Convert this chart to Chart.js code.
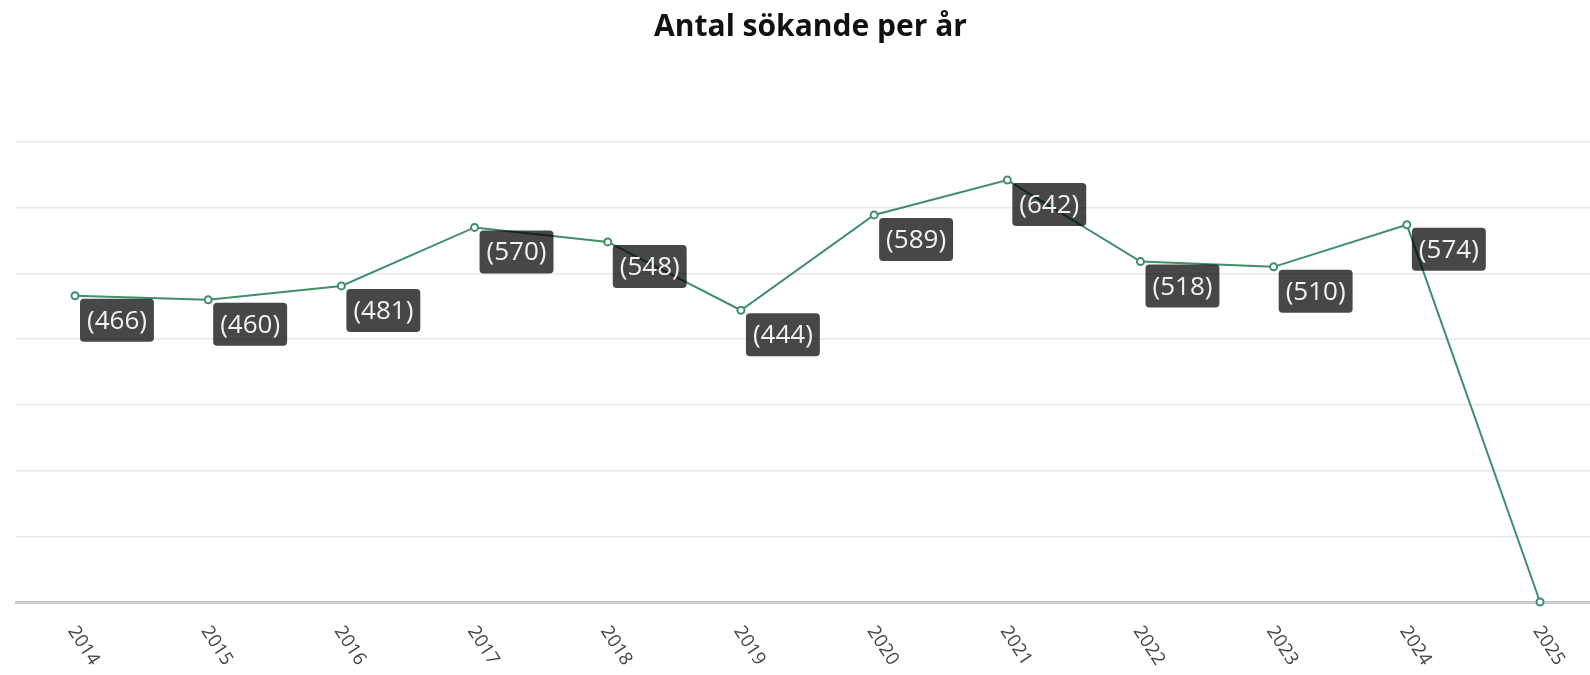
<!DOCTYPE html>
<html>
<head>
<meta charset="utf-8">
<script src="https://cdn.jsdelivr.net/npm/chart.js@4/dist/chart.umd.min.js"></script>
<style>
  html, body { margin: 0; padding: 0; background: #fff; }
  #wrap { width: 1590px; height: 675px; }
</style>
</head>
<body>
<div id="wrap"><canvas id="sokandeChart"></canvas></div>
<script>
const years = [2014, 2015, 2016, 2017, 2018, 2019, 2020, 2021, 2022, 2023, 2024, 2025];
const applicants = [466, 460, 481, 570, 548, 444, 589, 642, 518, 510, 574, 0];
const yTicks = [0, 100, 200, 300, 400, 500, 600, 700];

const lineColor = '#3f8f6b';

// Rounded box with the value, placed below-right of each point
const valueLabels = {
  id: 'valueLabels',
  afterDatasetsDraw(chart) {
    const ctx = chart.ctx;
    const meta = chart.getDatasetMeta(0);
    ctx.save();
    ctx.font = '26px "Open Sans"';
    ctx.textBaseline = 'middle';
    ctx.textAlign = 'left';
    meta.data.forEach((pt, i) => {
      const v = applicants[i];
      if (!v) return;
      const text = '(' + v + ')';
      const w = ctx.measureText(text).width + 14;
      const h = 43;
      const x = pt.x + 5;
      const y = pt.y + 3;
      ctx.fillStyle = 'rgba(0, 0, 0, 0.72)';
      ctx.beginPath();
      ctx.roundRect(x, y, w, h, 4);
      ctx.fill();
      ctx.fillStyle = '#f2f2f2';
      ctx.fillText(text, x + 7, y + h / 2 + 1);
    });
    ctx.restore();
  }
};

// Year labels turned clockwise, starting at the tick
const yearLabels = {
  id: 'yearLabels',
  afterDraw(chart) {
    const ctx = chart.ctx;
    const xScale = chart.scales.x;
    const bottom = chart.chartArea.bottom;
    ctx.save();
    ctx.font = '18.5px "Open Sans"';
    ctx.fillStyle = '#444';
    ctx.textAlign = 'left';
    ctx.textBaseline = 'middle';
    years.forEach(yr => {
      const x = xScale.getPixelForValue(yr);
      ctx.save();
      ctx.translate(x - 3, bottom + 26);
      ctx.rotate(57 * Math.PI / 180);
      ctx.fillText(String(yr), 0, 0);
      ctx.restore();
    });
    ctx.restore();
  }
};

new Chart(document.getElementById('sokandeChart'), {
  type: 'line',
  data: {
    datasets: [{
      label: 'Antal sökande',
      data: years.map((yr, i) => ({ x: yr, y: applicants[i] })),
      borderColor: lineColor,
      backgroundColor: '#fff',
      borderWidth: 2,
      pointRadius: 3.5,
      pointBorderWidth: 2,
      pointBorderColor: lineColor,
      pointBackgroundColor: '#fff',
      tension: 0,
      clip: false
    }]
  },
  options: {
    responsive: true,
    maintainAspectRatio: false,
    animation: false,
    layout: { autoPadding: false, padding: { left: 16, right: 0, top: 0, bottom: 73 } },
    plugins: {
      legend: { display: false },
      tooltip: { enabled: false },
      title: {
        display: true,
        text: '\u2002Antal sökande per år',
        color: '#111',
        font: { family: 'Open Sans', size: 30, weight: 'bold' },
        padding: { top: 9, bottom: 97 }
      }
    },
    scales: {
      x: {
        type: 'linear',
        min: 2013.557,
        max: 2025.375,
        grid: { display: false, drawTicks: false },
        border: { color: '#cccccc', width: 3 },
        ticks: { display: false, stepSize: 1, padding: 0 }
      },
      y: {
        min: yTicks[0],
        max: yTicks[yTicks.length - 1],
        afterBuildTicks(scale) {
          scale.ticks = yTicks.map(v => ({ value: v }));
        },
        grid: { color: '#e8e8e8', lineWidth: 1.5, drawTicks: false },
        border: { display: false },
        ticks: { display: false, padding: 0 }
      }
    }
  },
  plugins: [valueLabels, yearLabels]
});
</script>
</body>
</html>
